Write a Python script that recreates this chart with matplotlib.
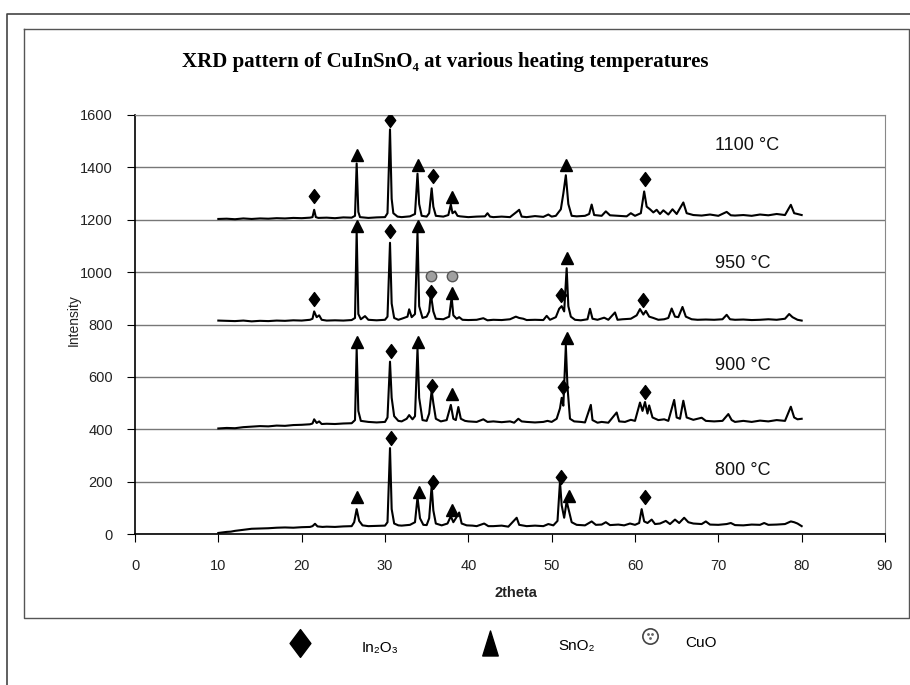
import numpy as np
import matplotlib
matplotlib.use("Agg")
import matplotlib.pyplot as plt
from matplotlib.path import Path

plt.rcParams["font.family"] = ["Liberation Sans", "DejaVu Sans"]

# 2theta / intensity, one trace per temperature
x1100 = [10, 11, 12, 13, 14, 15, 16, 17, 18, 19, 20, 21, 21.3, 21.5, 21.7, 22, 23, 24, 25, 26,
         26.4, 26.6, 26.8, 27, 28, 29, 30, 30.3, 30.6, 30.8, 31.0, 31.5, 32, 33, 33.6, 33.9, 34.1,
         34.4, 35, 35.3, 35.6, 35.8, 36.1, 37, 37.6, 37.9, 38.1, 38.4, 38.7, 39, 40, 41, 42, 42.3,
         42.6, 43, 44, 45, 45.8, 46.1, 46.4, 47, 48, 49, 49.6, 50, 50.5, 51.1, 51.4, 51.7, 52.0,
         52.4, 53, 54, 54.5, 54.8, 55.1, 56, 56.5, 57, 58, 59, 59.5, 60, 60.7, 61.1, 61.4, 61.8,
         62.2, 62.6, 63.0, 63.4, 64, 64.5, 65, 65.8, 66.2, 67, 68, 69, 70, 71, 71.5, 72, 73, 74,
         75, 76, 77, 78, 78.7, 79.1, 79.5, 80]
y1100 = [1203, 1204, 1202, 1205, 1203, 1205, 1204, 1206, 1205, 1207, 1206, 1208, 1210, 1238, 1210,
         1207, 1208, 1206, 1209, 1208, 1215, 1415, 1230, 1210, 1207, 1209, 1210, 1225, 1545, 1280,
         1225, 1212, 1210, 1213, 1222, 1376, 1260, 1215, 1212, 1225, 1320, 1250, 1215, 1212, 1218,
         1258, 1225, 1232, 1215, 1213, 1210, 1212, 1213, 1225, 1212, 1210, 1212, 1210, 1230, 1238,
         1212, 1210, 1214, 1211, 1220, 1212, 1215, 1240, 1300, 1370, 1260, 1215, 1213, 1215, 1222,
         1258, 1218, 1215, 1232, 1217, 1215, 1213, 1225, 1215, 1225, 1308, 1250, 1240, 1228, 1238,
         1222, 1236, 1220, 1240, 1222, 1266, 1225, 1218, 1216, 1220, 1215, 1230, 1217, 1216, 1218,
         1215, 1220, 1217, 1222, 1218, 1257, 1225, 1222, 1218]

x950 = [10, 11, 12, 13, 14, 15, 16, 17, 18, 19, 20, 21, 21.3, 21.5, 21.8, 22.1, 22.4, 23, 24, 25,
        26, 26.4, 26.6, 26.8, 27.1, 27.6, 28, 29, 30, 30.3, 30.6, 30.8, 31.1, 31.6, 32, 32.7, 32.9,
        33.2, 33.6, 33.9, 34.1, 34.5, 35, 35.3, 35.5, 35.8, 36.1, 37, 37.7, 38.0, 38.2, 38.6, 38.9,
        39.3, 40, 41, 41.8, 42.3, 43, 44, 45, 45.7, 46.1, 46.6, 47, 48, 49, 49.4, 49.8, 50.5, 50.9,
        51.2, 51.5, 51.8, 52.0, 52.3, 52.8, 53.5, 54.3, 54.6, 54.9, 55.5, 56.3, 56.8, 57.6, 57.9,
        58.5, 59.5, 60.2, 60.6, 61.0, 61.3, 61.7, 62.2, 62.8, 63.5, 64.0, 64.4, 64.8, 65.2, 65.7,
        66.1, 66.8, 67.5, 68.5, 69.5, 70.5, 71.0, 71.4, 72, 73, 74, 75, 76, 77, 78, 78.5, 78.9,
        79.5, 80]
y950 = [815, 814, 813, 815, 812, 814, 813, 815, 814, 816, 815, 818, 822, 850, 828, 835, 818, 815,
        816, 815, 817, 825, 1158, 840, 820, 832, 818, 816, 818, 830, 1112, 880, 825, 818, 822, 830,
        858, 828, 840, 1150, 870, 825, 830, 850, 917, 850, 822, 820, 830, 904, 835, 822, 828, 818,
        817, 818, 824, 816, 818, 817, 820, 830, 825, 822, 817, 818, 817, 833, 818, 828, 860, 870,
        850, 1015, 870, 830, 818, 816, 820, 860, 822, 818, 826, 818, 846, 818, 820, 822, 835, 859,
        838, 852, 830, 825, 818, 820, 825, 861, 830, 828, 867, 830, 820, 818, 819, 818, 820, 837,
        820, 818, 819, 817, 818, 820, 818, 822, 840, 828, 818, 815]

x900 = [10, 11, 12, 13, 14, 15, 16, 17, 18, 19, 20, 21, 21.3, 21.5, 21.8, 22.1, 22.4, 23, 24, 25,
        26, 26.4, 26.6, 26.8, 27.1, 28, 29, 30, 30.3, 30.6, 30.8, 31.1, 31.6, 32, 32.6, 32.9, 33.3,
        33.6, 33.9, 34.1, 34.5, 35, 35.3, 35.6, 35.8, 36.1, 36.7, 37.4, 37.9, 38.2, 38.5, 38.8,
        39.1, 39.6, 40, 41, 41.8, 42.3, 43, 44, 45, 45.5, 46.0, 46.4, 47, 48, 49, 49.5, 50, 50.6,
        51.0, 51.2, 51.4, 51.7, 51.9, 52.2, 52.7, 53.5, 54, 54.7, 54.9, 55.5, 56, 56.8, 57.8, 58.1,
        58.8, 59.5, 60, 60.6, 60.9, 61.2, 61.5, 61.7, 62.1, 62.8, 63.5, 64, 64.7, 65.0, 65.4, 65.8,
        66.2, 67, 68, 68.5, 69.5, 70.5, 71.2, 71.6, 72, 73, 74, 75, 76, 77, 78, 78.7, 79.1, 79.5, 80]
y900 = [403, 405, 404, 408, 410, 412, 411, 414, 413, 416, 417, 419, 422, 438, 424, 430, 420, 421,
        420, 422, 423, 435, 708, 470, 432, 428, 426, 428, 445, 658, 520, 450, 432, 430, 440, 454,
        438, 450, 710, 520, 435, 432, 460, 548, 500, 440, 430, 435, 493, 440, 435, 485, 440, 432,
        430, 428, 438, 428, 430, 427, 430, 425, 440, 430, 428, 426, 428, 432, 428, 440, 480, 520,
        490, 720, 560, 440, 430, 428, 426, 493, 435, 425, 428, 425, 464, 430, 428, 436, 432, 502,
        470, 504, 460, 491, 445, 435, 438, 432, 512, 445, 440, 509, 445, 436, 444, 432, 430, 432,
        458, 435, 428, 432, 428, 433, 430, 435, 432, 486, 445, 438, 440]

x800 = [10, 10.5, 11, 11.5, 12, 12.5, 13, 13.5, 14, 15, 16, 17, 18, 19, 20, 21, 21.3, 21.6, 21.9,
        22.5, 23, 24, 25, 26, 26.3, 26.6, 26.9, 27.3, 28, 29, 30, 30.3, 30.6, 30.8, 31.1, 31.6, 32,
        33, 33.6, 33.9, 34.2, 34.6, 35, 35.3, 35.6, 35.8, 36.1, 36.8, 37.5, 37.9, 38.2, 38.5, 38.9,
        39.2, 39.8, 40.5, 41, 41.9, 42.4, 43, 44, 44.8, 45.8, 46.1, 47, 48, 49, 49.6, 50.2, 50.7,
        51.0, 51.2, 51.5, 51.8, 52.1, 52.4, 53, 54, 54.8, 55.3, 56, 56.5, 57, 58, 58.7, 59.4, 60,
        60.5, 60.8, 61.1, 61.5, 62, 62.4, 63, 63.7, 64.2, 64.8, 65.3, 65.9, 66.4, 67, 68, 68.5, 69,
        70, 71, 71.5, 72, 73, 74, 75, 75.5, 76, 77, 78, 78.7, 79.1, 79.5, 80]
y800 = [4, 6, 8, 9, 12, 14, 16, 18, 20, 21, 22, 24, 25, 24, 26, 27, 30, 39, 29, 27, 28, 27, 29, 30,
        45, 95, 50, 33, 30, 31, 32, 45, 328, 95, 40, 33, 32, 35, 45, 140, 60, 35, 34, 60, 185, 90,
        40, 33, 40, 68, 45, 60, 82, 40, 33, 32, 30, 40, 30, 30, 32, 28, 62, 35, 30, 32, 30, 38, 33,
        50, 200, 110, 62, 125, 85, 45, 35, 33, 48, 35, 36, 45, 34, 36, 33, 40, 35, 42, 95, 48, 42,
        55, 38, 40, 50, 38, 55, 42, 62, 45, 40, 38, 48, 36, 35, 38, 42, 34, 33, 36, 35, 42, 35, 36,
        38, 48, 45, 40, 30]

temps = ["1100 °C", "950 °C", "900 °C", "800 °C"]
temp_label_y = [1483, 1033, 644, 241]

# phase markers (2theta, intensity)
in2o3_x = [21.5, 30.6, 35.7, 61.2, 21.5, 30.6, 35.5, 51.1, 61.0, 30.7, 35.6, 51.3, 61.2,
           30.7, 35.7, 51.1, 61.2]
in2o3_y = [1290, 1580, 1366, 1357, 897, 1158, 925, 912, 895, 699, 564, 561, 544,
           366, 200, 219, 142]
sno2_x = [26.6, 33.9, 38.0, 51.7, 26.6, 33.9, 38.0, 51.8, 26.6, 33.9, 38.0, 51.8,
          26.6, 34.1, 38.0, 52.1]
sno2_y = [1448, 1408, 1287, 1408, 1178, 1178, 920, 1055, 732, 732, 533, 748,
          142, 162, 90, 146]
cuo_x = [35.5, 38.0]
cuo_y = [987, 987]

diamond = Path([(0, 1), (0.75, 0), (0, -1), (-0.75, 0), (0, 1)],
               [Path.MOVETO, Path.LINETO, Path.LINETO, Path.LINETO, Path.CLOSEPOLY])
tall_tri = Path([(0, 1), (0.62, -1), (-0.62, -1), (0, 1)],
                [Path.MOVETO, Path.LINETO, Path.LINETO, Path.CLOSEPOLY])

W, H = 910, 685
fig = plt.figure(figsize=(W / 100, H / 100), dpi=100)

# frames round the chart
ov = fig.add_axes([0, 0, 1, 1], zorder=-1)
ov.set_xlim(0, W)
ov.set_ylim(H, 0)
ov.axis("off")
ov.plot([7, 7, W], [H, 14, 14], color="#444444", lw=1.2)
ov.plot([24, 909, 909, 24, 24], [29, 29, 618, 618, 29], color="#555555", lw=1.0)

ax = fig.add_axes([135 / W, 1 - 534 / H, (885 - 135) / W, (534 - 115) / H])
ax.set_facecolor("none")
for xs, ys in [(x1100, y1100), (x950, y950), (x900, y900), (x800, y800)]:
    ax.plot(xs, ys, color="black", lw=1.5, zorder=3)

ax.plot(in2o3_x, in2o3_y, ls="none", marker=diamond, ms=10, color="black", zorder=4)
ax.plot(sno2_x, sno2_y, ls="none", marker="^", ms=9, color="black", zorder=4)
ax.plot(cuo_x, cuo_y, ls="none", marker="o", ms=7.5, mfc="#a0a0a0", mec="#555555",
        mew=1, zorder=4)

for t, ty in zip(temps, temp_label_y):
    ax.text(69.6, ty, t, fontsize=13, ha="left", va="center", color="#111111")

ax.set_xlim(0, 90)
ax.set_ylim(0, 1600)
ax.set_xticks(np.arange(0, 91, 10))
ax.set_yticks(np.arange(0, 1601, 200))
ax.grid(axis="y", color="#777777", lw=1.0)
ax.set_axisbelow(True)
for s in ["top", "right"]:
    ax.spines[s].set_color("#888888")
for s in ["left", "bottom"]:
    ax.spines[s].set_color("black")
    ax.spines[s].set_linewidth(1.2)
ax.tick_params(axis="both", direction="out", length=6, color="black", labelsize=10.5,
               labelcolor="#222222")
ax.tick_params(axis="y", pad=10)
ax.tick_params(axis="x", pad=12)

ax.set_ylabel("Intensity", fontsize=10, color="#222222")
ax.yaxis.set_label_coords(-0.072, 0.51)
ax.set_xlabel("2theta", fontsize=10.5, fontweight="bold", color="#222222")
ax.xaxis.set_label_coords(0.508, -0.125)

fig.text(445 / W, 1 - 62 / H, "XRD pattern of CuInSnO₄ at various heating temperatures",
         family=["Liberation Serif", "DejaVu Serif"], fontweight="bold", fontsize=15,
         ha="center", va="center")

# legend below the chart
ov.plot([300], [643], marker=diamond, ms=20, color="black", ls="none")
ov.plot([490], [643], marker=tall_tri, ms=18, color="black", ls="none")
ov.plot([650], [636], marker="o", ms=11, mfc="white", mec="#444444", mew=1.2, ls="none")
ov.plot([648, 652, 650], [634, 634, 638], marker=".", ms=2, color="#666666", ls="none")
ov.text(362, 648, "In₂O₃", fontsize=11, va="center", ha="left")
ov.text(558, 646, "SnO₂", fontsize=11, va="center", ha="left")
ov.text(685, 643, "CuO", fontsize=11, va="center", ha="left")

fig.savefig("out.png", dpi=100)
